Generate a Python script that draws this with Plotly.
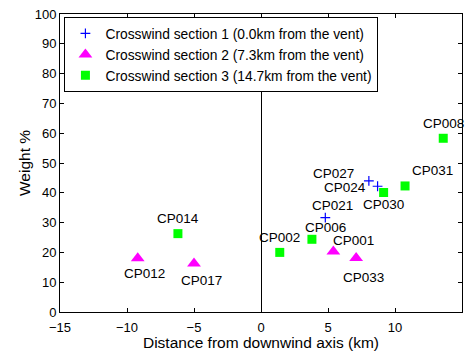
import plotly.graph_objects as go

# Crosswind section 1 (0.0 km from the vent)
s1_names = ["CP021", "CP027", "CP024"]
s1_dist = [4.8, 8.05, 8.7]
s1_weight = [31.7, 44.0, 42.2]

# Crosswind section 2 (7.3 km from the vent)
s2_names = ["CP012", "CP017", "CP001", "CP033"]
s2_dist = [-9.2, -5.0, 5.4, 7.1]
s2_weight = [18.0, 16.3, 20.3, 18.1]

# Crosswind section 3 (14.7 km from the vent)
s3_names = ["CP014", "CP002", "CP006", "CP030", "CP031", "CP008"]
s3_dist = [-6.2, 1.4, 3.8, 9.15, 10.75, 13.6]
s3_weight = [26.3, 20.0, 24.4, 40.1, 42.3, 58.3]

x_ticks = [-15, -10, -5, 0, 5, 10, 15]
y_ticks = [0, 10, 20, 30, 40, 50, 60, 70, 80, 90, 100]

# pixel offsets of each sample label from its marker (right, down)
label_offsets = {
    "CP021": (7, -12), "CP027": (-35, -7), "CP024": (-33, 1),
    "CP012": (7, 15), "CP017": (7, 17), "CP001": (20, -11), "CP033": (7, 19),
    "CP014": (0, -15), "CP002": (0, -15), "CP006": (14, -12),
    "CP030": (0, 12), "CP031": (27, -15), "CP008": (0, -15),
}

FONT = "Arial, Liberation Sans, Helvetica, sans-serif"

fig = go.Figure()
fig.add_trace(go.Scatter(
    x=s1_dist, y=s1_weight, mode="markers",
    name="Crosswind section 1 (0.0km from the vent)",
    marker=dict(symbol="cross-thin-open", size=7, color="#0000ff",
                line=dict(color="#0000ff", width=1.2)),
))
fig.add_trace(go.Scatter(
    x=s2_dist, y=s2_weight, mode="markers",
    name="Crosswind section 2 (7.3km from the vent)",
    marker=dict(symbol="triangle-up", size=12, color="#ff00ff",
                line=dict(width=0)),
))
fig.add_trace(go.Scatter(
    x=s3_dist, y=s3_weight, mode="markers",
    name="Crosswind section 3 (14.7km from the vent)",
    marker=dict(symbol="square", size=9, color="#00ff00",
                line=dict(width=0)),
))

for names, xs, ys in [(s1_names, s1_dist, s1_weight),
                      (s2_names, s2_dist, s2_weight),
                      (s3_names, s3_dist, s3_weight)]:
    for n, xv, yv in zip(names, xs, ys):
        dx, dy = label_offsets[n]
        fig.add_annotation(x=xv, y=yv, text=n, showarrow=False,
                           xshift=dx, yshift=-dy,
                           font=dict(family=FONT, size=13.5, color="black"))

axis_common = dict(
    showgrid=False, showline=True, linecolor="black", linewidth=1,
    mirror="ticks", ticks="inside", ticklen=4, tickcolor="black",
    tickfont=dict(family=FONT, size=13, color="black"),
)

fig.update_xaxes(
    range=[-15, 15], tickvals=x_ticks, zeroline=True,
    zerolinecolor="black", zerolinewidth=1, ticklabelstandoff=3,
    title=dict(text="Distance from downwind axis (km)",
               font=dict(family=FONT, size=15.5, color="black"), standoff=0),
    **axis_common,
)
fig.update_yaxes(
    range=[0, 100], tickvals=y_ticks, zeroline=False,
    title=dict(text="Weight %",
               font=dict(family=FONT, size=15.5, color="black"), standoff=0),
    **axis_common,
)

fig.update_layout(
    width=468, height=351,
    margin=dict(l=60, r=6, t=14, b=39),
    plot_bgcolor="white", paper_bgcolor="white",
    legend=dict(x=0.011, y=0.99, xanchor="left", yanchor="top",
                bordercolor="black", borderwidth=1, bgcolor="white",
                font=dict(family=FONT, size=13.8, color="black"),
                tracegroupgap=0),
    showlegend=True,
)

fig.write_html("out.html")
